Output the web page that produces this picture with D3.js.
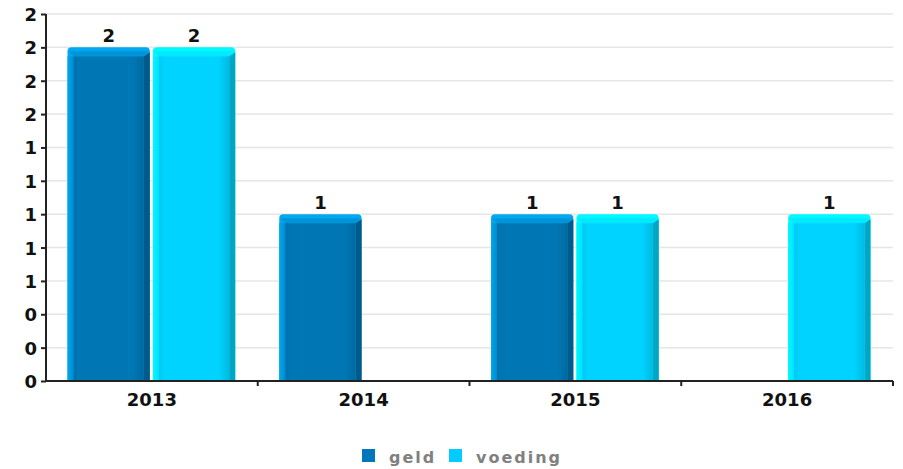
<!DOCTYPE html>
<html>
<head>
<meta charset="utf-8">
<script src="https://cdn.jsdelivr.net/npm/d3@7"></script>
<style>
body{margin:0;background:#fff;}
svg{display:block;font-family:"DejaVu Sans",sans-serif;}
</style>
</head>
<body>
<svg id="c" width="903" height="469"></svg>
<script>
const categories = ["2013","2014","2015","2016"];
const seriesNames = ["geld","voeding"];
const geld = [2, 1, 1, 0];
const voeding = [2, 0, 1, 1];
const yTicks = [0,0.2,0.4,0.6,0.8,1.0,1.2,1.4,1.6,1.8,2.0,2.2];
const colors = {
  geld: {main:"#0077b5", light:"#00a8f0", dark:"#005a8a", legend:"#0077bb"},
  voeding: {main:"#00d3ff", light:"#00f8ff", dark:"#00a6c6", legend:"#00ccff"}
};

const svg = d3.select("#c");
const L = 46, R = 893, T = 14, B = 381;
const x0 = d3.scaleBand().domain(categories).range([L, R]).padding(0);
const x1 = d3.scaleBand().domain(seriesNames).range([21.5, x0.bandwidth()-22.5]).paddingInner(0.036);
const y = d3.scaleLinear().domain([0, 2.2]).range([B, T]);

// gridlines
svg.append("g").selectAll("line").data(yTicks).join("line")
  .attr("x1", L).attr("x2", R)
  .attr("y1", d => y(d)).attr("y2", d => y(d))
  .attr("stroke", "#e6e6e6").attr("stroke-width", 1.5);

// gradients
const defs = svg.append("defs");
seriesNames.forEach(s => {
  const c = colors[s];
  const g = defs.append("linearGradient").attr("id", "g-" + s).attr("x1", 0).attr("x2", 1).attr("y1", 0).attr("y2", 0);
  g.append("stop").attr("offset", "0%").attr("stop-color", d3.color(c.main).darker(0.15));
  g.append("stop").attr("offset", "8%").attr("stop-color", c.main);
  g.append("stop").attr("offset", "85%").attr("stop-color", c.main);
  g.append("stop").attr("offset", "100%").attr("stop-color", d3.color(c.main).darker(0.35));
  const lg = defs.append("linearGradient").attr("id", "l-" + s).attr("x1", 0).attr("x2", 1).attr("y1", 0).attr("y2", 0);
  lg.append("stop").attr("offset", "0%").attr("stop-color", c.light);
  lg.append("stop").attr("offset", "100%").attr("stop-color", d3.interpolateRgb(c.light, c.main)(0.6));
});

const data = [];
categories.forEach((cat, i) => {
  data.push({cat, s: "geld", v: geld[i]});
  data.push({cat, s: "voeding", v: voeding[i]});
});

const bars = svg.append("g").selectAll("g").data(data.filter(d => d.v > 0)).join("g");
bars.each(function(d) {
  const g = d3.select(this);
  const c = colors[d.s];
  const bx = x0(d.cat) + x1(d.s), bw = x1.bandwidth();
  const ty = y(d.v), by = y(0);
  const r = 4, e = 6, tb = 9;
  g.append("path")
    .attr("d", `M${bx},${by} L${bx},${ty+r} Q${bx},${ty} ${bx+r},${ty} L${bx+bw-r},${ty} Q${bx+bw},${ty} ${bx+bw},${ty+r} L${bx+bw},${by} Z`)
    .attr("fill", c.light);
  g.append("rect").attr("x", bx).attr("y", ty + tb).attr("width", e).attr("height", by - ty - tb)
    .attr("fill", `url(#l-${d.s})`);
  g.append("path")
    .attr("d", `M${bx+bw-e},${ty+tb} L${bx+bw},${ty+r+1} L${bx+bw},${by} L${bx+bw-e},${by} Z`)
    .attr("fill", c.dark);
  g.append("path")
    .attr("d", `M${bx+1},${ty+r} L${bx+e},${ty+tb} L${bx+bw-e},${ty+tb} L${bx+bw-1},${ty+r} Z`)
    .attr("fill", d3.interpolateRgb(c.light, c.main)(0.4));
  g.append("rect")
    .attr("x", bx + e).attr("y", ty + tb)
    .attr("width", bw - 2*e).attr("height", by - ty - tb)
    .attr("fill", `url(#g-${d.s})`);
  g.append("text")
    .attr("x", bx + bw/2).attr("y", ty - 5)
    .attr("text-anchor", "middle")
    .attr("font-size", 18).attr("font-weight", "bold").attr("fill", "#111")
    .text(d3.format(".0f")(d.v));
});

// y axis
const yAxis = d3.axisLeft(y).tickValues(yTicks).tickFormat(d3.format(".0f")).tickSize(5).tickPadding(4);
const ya = svg.append("g").attr("transform", `translate(${L},0)`).call(yAxis);
ya.select(".domain").attr("stroke", "#222").attr("stroke-width", 2).attr("d", `M0,${T}V${B}`);
ya.selectAll(".tick line").attr("stroke", "#222").attr("stroke-width", 2);
ya.selectAll("text").attr("font-size", 18).attr("font-weight", "bold").attr("fill", "#111")
  .attr("font-family", "DejaVu Sans").attr("dy", "0.36em");

// x axis
const xa = svg.append("g").attr("transform", `translate(0,${B})`);
xa.append("line").attr("x1", L).attr("x2", R).attr("y1", 0).attr("y2", 0).attr("stroke", "#222").attr("stroke-width", 2);
xa.selectAll("line.t").data(categories.slice(1).concat(["end"])).join("line").attr("class", "t")
  .attr("x1", d => d === "end" ? R : x0(d)).attr("x2", d => d === "end" ? R : x0(d))
  .attr("y1", 0).attr("y2", 5).attr("stroke", "#222").attr("stroke-width", 2);
xa.selectAll("text").data(categories).join("text")
  .attr("x", d => x0(d) + x0.bandwidth()/2).attr("y", 25)
  .attr("text-anchor", "middle").attr("font-size", 18).attr("font-weight", "bold").attr("fill", "#111")
  .text(d => d);

// legend
const leg = svg.append("g");
const legX = [362, 449];
seriesNames.forEach((s, i) => {
  leg.append("rect").attr("x", legX[i]).attr("y", 449).attr("width", 13).attr("height", 13).attr("fill", colors[s].legend);
  leg.append("text").attr("x", legX[i] + 27).attr("y", 463)
    .attr("font-size", 16).attr("font-weight", "bold").attr("fill", "#808080").attr("letter-spacing", 2)
    .text(s);
});
</script>
</body>
</html>
